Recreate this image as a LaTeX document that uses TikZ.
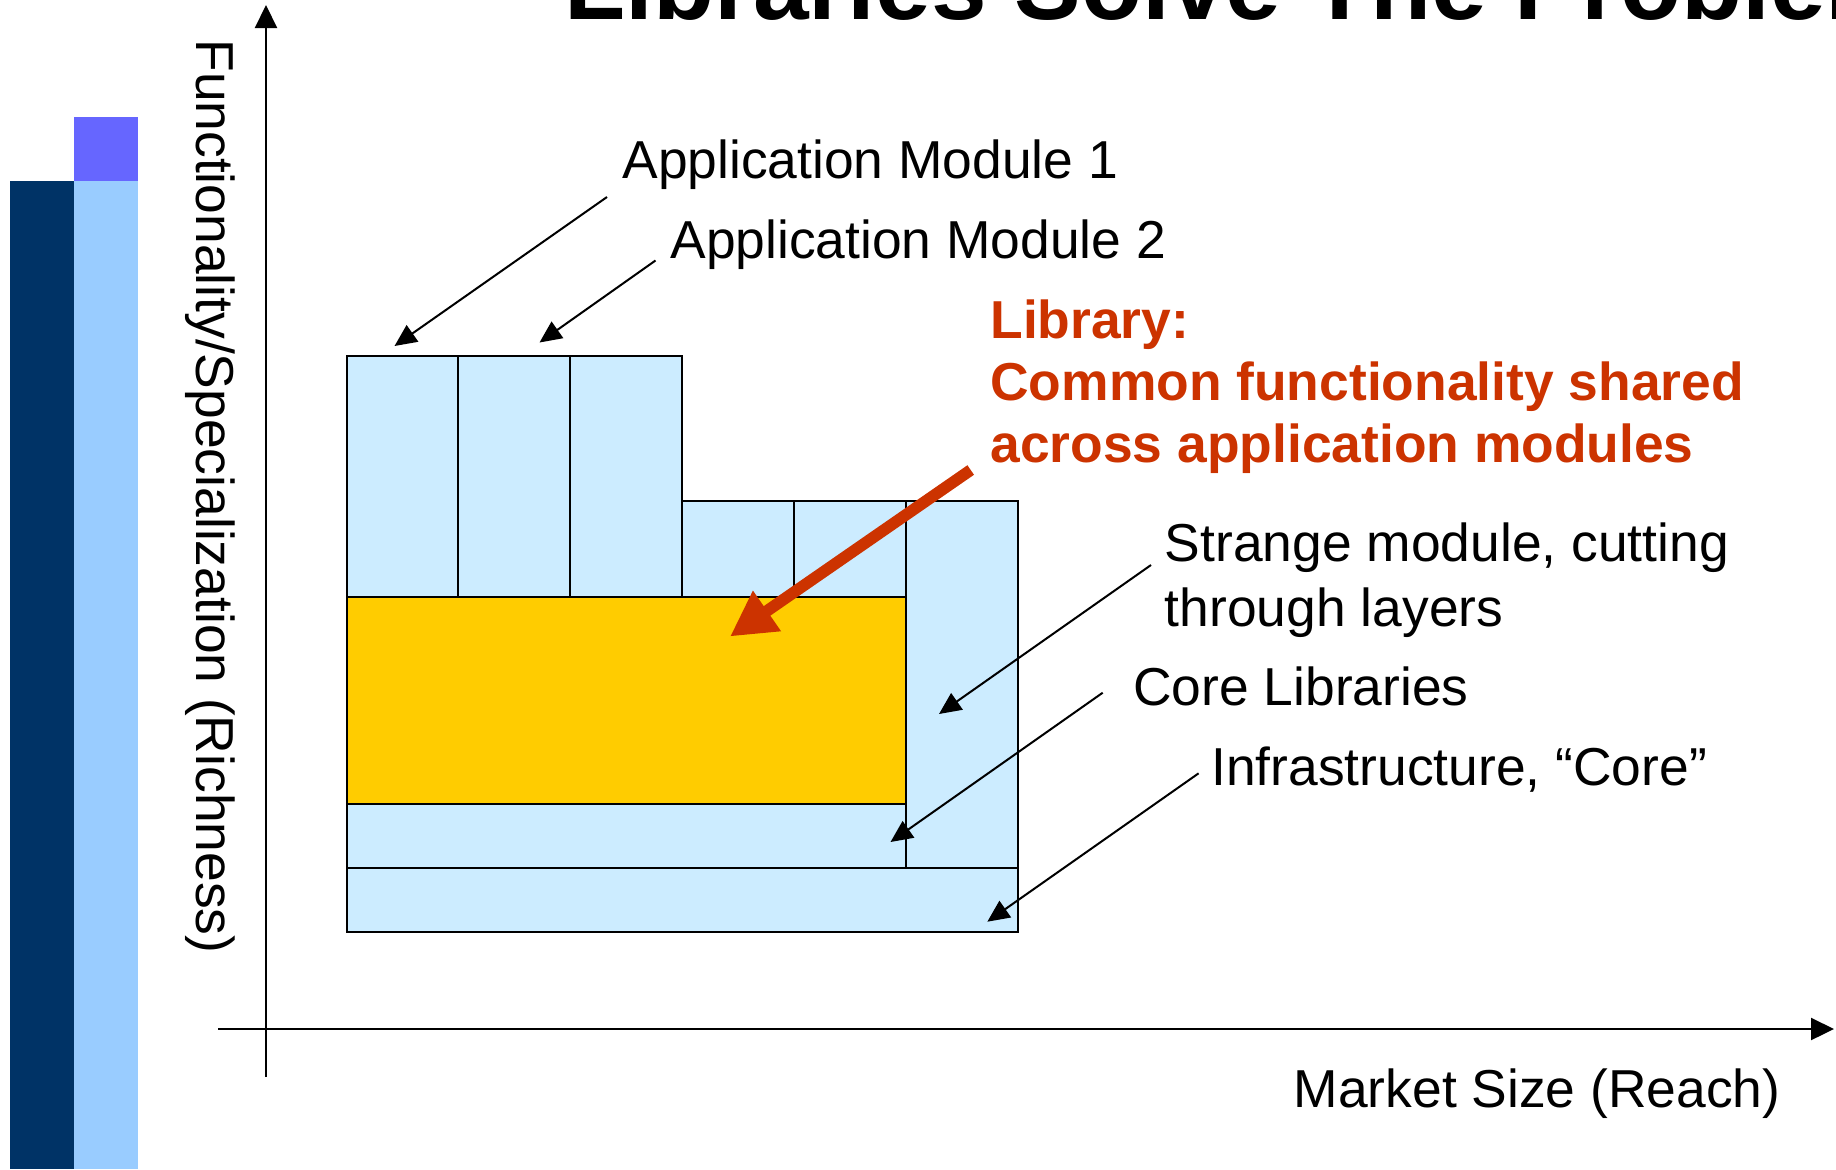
\documentclass[tikz,border=0pt]{standalone}
\usepackage{fontspec}
\setmainfont{Liberation Sans}
\usetikzlibrary{arrows.meta,fit}
\definecolor{navy}{HTML}{003366}
\definecolor{barblue}{HTML}{99CCFF}
\definecolor{barviolet}{HTML}{6666FF}
\definecolor{blockblue}{HTML}{CCECFF}
\definecolor{libyellow}{HTML}{FFCC00}
\definecolor{libred}{HTML}{CC3300}
\begin{document}
\begin{tikzpicture}[x=0.5pt,y=-0.5pt,
  block/.style={draw=black, line width=1.1pt, fill=blockblue, inner sep=0pt},
  lbl/.style={inner sep=0pt, anchor=base west, font=\fontsize{26.7pt}{31pt}\selectfont},
  redlbl/.style={lbl, text=libred, font=\fontsize{26.7pt}{31pt}\selectfont\bfseries},
  pointer/.style={draw=black, line width=1pt, -{Triangle[length=11pt,width=10pt]}},
  axis/.style={draw=black, line width=1.1pt, -{Triangle[length=11.5pt,width=11pt]}}]

% page frame
\clip (0,0) rectangle (1836,1169);
\fill[white] (0,0) rectangle (1836,1169);

% decorative bars on the left
\fill[navy] (10,181) rectangle (73.7,1169);
\fill[barblue] (73.7,181) rectangle (138,1169);
\fill[barviolet] (73.7,117) rectangle (138,181);

% title
\node[anchor=base west, inner sep=0pt, font=\fontsize{50pt}{60pt}\selectfont\bfseries] (title) at (564,19) {Libraries Solve The Problem};

% axes
\coordinate (origin-y) at (266,1077);
\coordinate (top-y) at (266,5);
\coordinate (origin-x) at (218,1029);
\coordinate (end-x) at (1834,1029);
\draw[axis] (origin-y) -- (top-y);
\draw[axis] (origin-x) -- (end-x);

\node[lbl, rotate=-90] (ylabel) at (196,39) {Functionality/Specialization (Richness)};
\node[lbl] (xlabel) at (1293.4,1107) {Market Size (Reach)};

% layered blocks
\node[block, fit={(346.6,356.3) (457.8,597.1)}] (am1) {};
\node[block, fit={(457.8,356.3) (570.2,597.1)}] (am2) {};
\node[block, fit={(570.2,356.3) (681.8,597.1)}] (am3) {};
\node[block, fit={(681.8,501) (794.3,597.1)}] (am4) {};
\node[block, fit={(794.3,501) (906.3,597.1)}] (am5) {};
\node[block, fit={(906.3,501) (1017.6,868)}] (strange) {};
\node[block, fill=libyellow, fit={(346.6,597.1) (906.3,804.3)}] (library) {};
\node[block, fit={(346.6,804.3) (906.3,868)}] (core) {};
\node[block, fit={(346.6,868) (1017.6,932.3)}] (infra) {};

% labels
\node[lbl] (t-am1) at (622,178.5) {Application Module 1};
\node[lbl] (t-am2) at (670,258.5) {Application Module 2};
\node[redlbl] (t-lib1) at (990,338.3) {Library:};
\node[redlbl] (t-lib2) at (990,400.7) {Common functionality shared};
\node[redlbl] (t-lib3) at (990,462.7) {across application modules};
\node[lbl] (t-str1) at (1164.5,561.7) {Strange module, cutting};
\node[lbl] (t-str2) at (1164.5,626) {through layers};
\node[lbl] (t-core) at (1133,705) {Core Libraries};
\node[lbl] (t-infra) at (1211,785) {Infrastructure, “Core”};

% pointer ends
\coordinate (p-am1) at (607,197);
\coordinate (q-am1) at (394.5,346);
\coordinate (p-am2) at (655.5,260.5);
\coordinate (q-am2) at (539.5,342.5);
\coordinate (p-lib) at (970.7,470);
\coordinate (q-lib) at (730,636.5);
\coordinate (p-str) at (1151,565);
\coordinate (q-str) at (939,714);
\coordinate (p-core) at (1102.7,692.7);
\coordinate (q-core) at (890.5,842);
\coordinate (p-infra) at (1198.6,773.3);
\coordinate (q-infra) at (987.3,921.7);

% pointers
\draw[pointer] (p-am1) -- (q-am1);
\draw[pointer] (p-am2) -- (q-am2);
\draw[pointer] (p-str) -- (q-str);
\draw[pointer] (p-core) -- (q-core);
\draw[pointer] (p-infra) -- (q-infra);
\draw[libred, line width=5.8pt, -{Triangle[length=22.5pt,width=23pt]}] (p-lib) -- (q-lib);
\end{tikzpicture}
\end{document}
